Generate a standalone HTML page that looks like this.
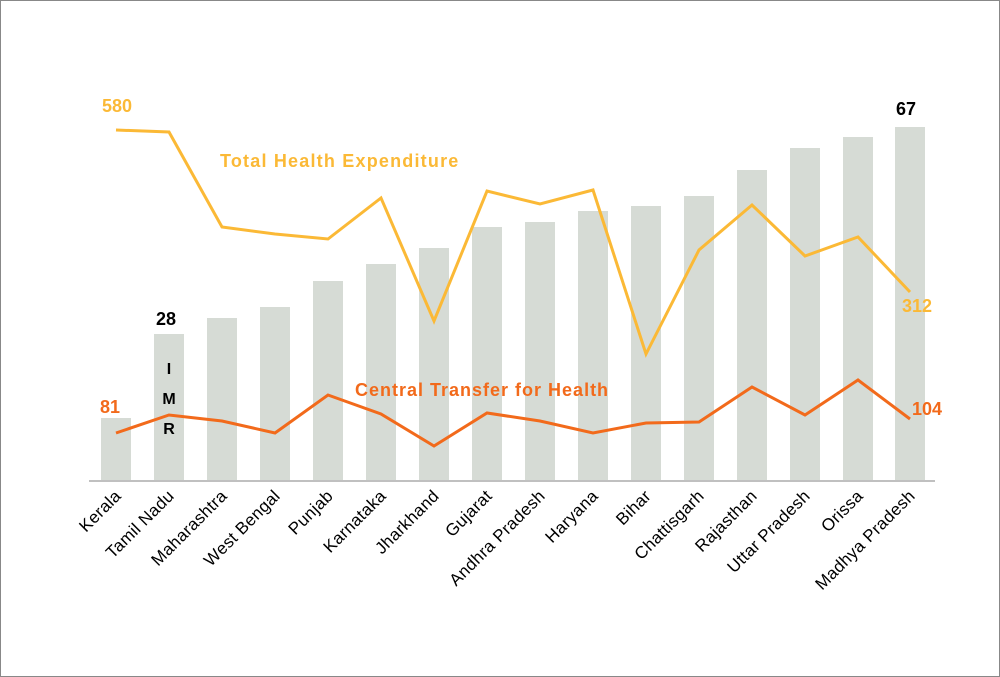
<!DOCTYPE html><html><head><style>body{margin:0;background:#fff}svg{display:block}text{font-family:"Liberation Sans",sans-serif}</style></head><body>
<svg width="1000" height="677" xmlns="http://www.w3.org/2000/svg">
<rect x="0.5" y="0.5" width="999" height="676" fill="#fff" stroke="#888"/>
<g fill="#d6dbd5">
<rect x="101" y="418" width="30" height="62"/><rect x="154" y="334" width="30" height="146"/><rect x="207" y="318" width="30" height="162"/><rect x="260" y="307" width="30" height="173"/><rect x="313" y="281" width="30" height="199"/><rect x="366" y="264" width="30" height="216"/><rect x="419" y="248" width="30" height="232"/><rect x="472" y="227" width="30" height="253"/><rect x="525" y="222" width="30" height="258"/><rect x="578" y="211" width="30" height="269"/><rect x="631" y="206" width="30" height="274"/><rect x="684" y="196" width="30" height="284"/><rect x="737" y="170" width="30" height="310"/><rect x="790" y="148" width="30" height="332"/><rect x="843" y="137" width="30" height="343"/><rect x="895" y="127" width="30" height="353"/>
</g>
<line x1="89" y1="481" x2="935" y2="481" stroke="#c0c0c0" stroke-width="2"/>
<polyline fill="none" stroke="#fbb936" stroke-width="3" points="116,130 169,132 222,227 275,234 328,239 381,198 434,321 487,191 540,204 593,190 646,354 699,250 752,205 805,256 858,237 910,292"/>
<polyline fill="none" stroke="#f26a1b" stroke-width="3" points="116,433 169,415 222,421 275,433 328,395 381,414 434,446 487,413 540,421 593,433 646,423 699,422 752,387 805,415 858,380 910,419"/>
<g font-weight="bold" font-size="18">
<text x="102" y="112" fill="#fbb936">580</text>
<text x="220" y="167" fill="#fbb936" letter-spacing="1.2">Total Health Expenditure</text>
<text x="902" y="312" fill="#fbb936">312</text>
<text x="896" y="115" fill="#000">67</text>
<text x="156" y="325" fill="#000">28</text>
<text x="100" y="413" fill="#f26a1b">81</text>
<text x="355" y="396" fill="#f26a1b" letter-spacing="1">Central Transfer for Health</text>
<text x="912" y="415" fill="#f26a1b">104</text>
<text x="169" y="374" fill="#000" font-size="16" text-anchor="middle">I</text>
<text x="169" y="404" fill="#000" font-size="16" text-anchor="middle">M</text>
<text x="169" y="434" fill="#000" font-size="16" text-anchor="middle">R</text>
</g>
<g font-size="17" fill="#000" text-anchor="end" letter-spacing="0.3">
<text transform="translate(122,497) rotate(-45)">Kerala</text>
<text transform="translate(175,497) rotate(-45)">Tamil Nadu</text>
<text transform="translate(228,497) rotate(-45)">Maharashtra</text>
<text transform="translate(281,497) rotate(-45)">West Bengal</text>
<text transform="translate(334,497) rotate(-45)">Punjab</text>
<text transform="translate(387,497) rotate(-45)">Karnataka</text>
<text transform="translate(440,497) rotate(-45)">Jharkhand</text>
<text transform="translate(493,497) rotate(-45)">Gujarat</text>
<text transform="translate(546,497) rotate(-45)">Andhra Pradesh</text>
<text transform="translate(599,497) rotate(-45)">Haryana</text>
<text transform="translate(652,497) rotate(-45)">Bihar</text>
<text transform="translate(705,497) rotate(-45)">Chattisgarh</text>
<text transform="translate(758,497) rotate(-45)">Rajasthan</text>
<text transform="translate(811,497) rotate(-45)">Uttar Pradesh</text>
<text transform="translate(864,497) rotate(-45)">Orissa</text>
<text transform="translate(916,497) rotate(-45)">Madhya Pradesh</text>
</g>
</svg></body></html>
